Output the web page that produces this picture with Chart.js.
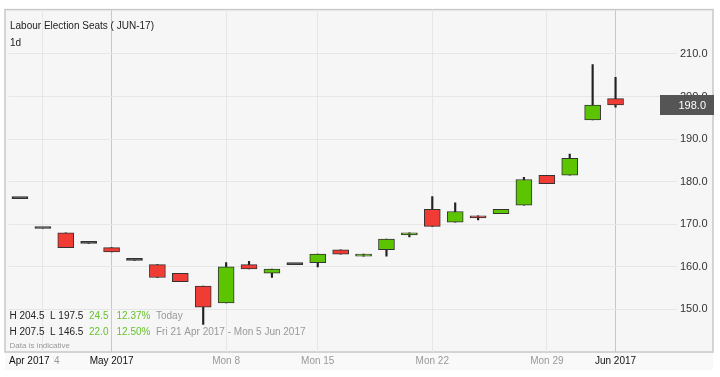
<!DOCTYPE html>
<html>
<head>
<meta charset="utf-8">
<script src="https://cdn.jsdelivr.net/npm/chart.js@4/dist/chart.umd.min.js"></script>
<style>
  html, body { margin: 0; padding: 0; background: #fff; }
  #wrap { width: 720px; height: 377px; position: relative; }
</style>
</head>
<body>
<div id="wrap"><canvas id="seats"></canvas></div>
<script>
// daily candles, Fri 21 Apr 2017 - Mon 5 Jun 2017
var days = ['21 Apr','24 Apr','26 Apr','28 Apr','1 May','2 May','3 May','4 May','5 May',
  '8 May','9 May','10 May','12 May','15 May','16 May','17 May','18 May','19 May',
  '22 May','23 May','24 May','25 May','26 May','29 May','30 May','31 May','5 Jun'];
var opens  = [176,169,168,165.5,164.5,161.5,160.5,158.5,155.5,151.5,160.5,158.5,160.5,161,164,162.5,164,167.5,173.5,170.5,172,172.5,174.5,181.5,181.5,194.5,199.5];
var highs  = [176,169,168,165.5,164.5,161.5,160.5,158.5,155.5,161,161.3,159.5,160.5,163,164,163,166.5,168,176.5,175,172,173.5,181,181.5,186.5,207.5,204.5];
var lows   = [176,169,164.5,165.5,163.5,161.5,157.5,156.5,146.5,151.5,159.5,157.5,160.5,160,163,162.5,162.5,167,169.5,170.5,171,172.5,174.5,179.5,181.5,194.5,197.5];
var closes = [176,169,164.5,165.5,163.5,161.5,157.5,156.5,150.5,160,159.5,159.5,160.5,163,163,163,166.5,168,169.5,173,171.5,173.5,180.5,179.5,185.5,198,198];

var yTicks = [150,160,170,180,190,200,210];
var xTickIndex = [1,0,4,9,13,18,23,26];
var xTickText  = ['Mon 24','Apr 2017','May 2017','Mon 8','Mon 15','Mon 22','Mon 29','Jun 2017'];
var monthLines = [4,26];
var weekLines  = [1,9,13,18,23];

var FONT = '"Liberation Sans", Arial, sans-serif';
var GREEN = '#5cc400', RED = '#f03c34';

var frame = {
  id:'frame',
  beforeDraw:function(chart){
    var c = chart.ctx, a = chart.chartArea, r = chart.scales.y.right - 1;
    c.save();
    c.fillStyle = '#fff';
    c.fillRect(0,0,chart.width,chart.height);
    c.fillStyle = '#f9f9f9';
    c.fillRect(5, a.bottom, r-5, 18);
    c.fillStyle = '#f6f6f6';
    c.fillRect(5, a.top, r-5, a.bottom-a.top);
    c.strokeStyle = '#c8c8c8';
    c.lineWidth = 1.5;
    c.strokeRect(5, a.top, r-5, a.bottom-a.top);
    c.restore();
  },
  afterDraw:function(chart){
    var c = chart.ctx, x = chart.scales.x, y = chart.scales.y;
    c.save();
    c.textBaseline = 'middle';
    c.font = '10px ' + FONT;
    c.fillStyle = '#222';
    c.fillText('Labour Election Seats ( JUN-17)', 10, 26.5);
    c.fillText('1d', 10, 43);

    // summary rows
    var n = closes.length;
    var chg = closes[n-1] - opens[0];
    var rows = [
      ['H 204.5','L 197.5','24.5','12.37%','Today'],
      ['H ' + Math.max.apply(null, highs).toFixed(1), 'L ' + Math.min.apply(null, lows).toFixed(1),
       chg.toFixed(1), (chg/opens[0]*100).toFixed(2) + '%', 'Fri 21 Apr 2017 - Mon 5 Jun 2017']
    ];
    var cols = [9.5,50,89,116.5,156];
    rows.forEach(function(row, k){
      var ty = 316.5 + k*16;
      row.forEach(function(t, j){
        c.fillStyle = j < 2 ? '#222' : (j < 4 ? '#66c22e' : '#999');
        c.fillText(t, cols[j], ty);
      });
    });
    c.font = '8px ' + FONT;
    c.fillStyle = '#999';
    c.fillText('Data is indicative', 9.5, 345.5);

    // x axis labels
    c.font = '10px ' + FONT;
    xTickIndex.forEach(function(i, k){
      var t = xTickText[k], month = t.indexOf('20') > 0;
      var px = x.getPixelForValue(i);
      c.fillStyle = month ? '#111' : '#999';
      if (i === 0) {
        c.fillStyle = '#f9f9f9';
        c.fillRect(6, chart.chartArea.bottom + 1, c.measureText(t).width + 7, 16);
        c.fillStyle = '#111';
        c.textAlign = 'left';
        c.fillText(t, 9, 361.5);
      } else {
        c.textAlign = 'center';
        c.fillText(t, px, 361.5);
      }
    });

    // last price box
    var last = closes[n-1];
    var py = y.getPixelForValue(last);
    c.fillStyle = '#555';
    c.fillRect(660, py - 10, 54, 20);
    c.fillStyle = '#fff';
    c.font = '11px ' + FONT;
    c.textAlign = 'right';
    c.fillText(last.toFixed(1), 706, py + 0.5);
    c.restore();
  }
};

new Chart(document.querySelector('#seats').getContext('2d'), {
  type:'bar',
  data:{
    labels:days,
    datasets:[{
      label:'body',
      data:opens.map(function(o,i){ return [o, closes[i]]; }),
      backgroundColor:function(ctx){
        var i = ctx.dataIndex;
        if (closes[i] === opens[i]) return '#333';
        return closes[i] > opens[i] ? GREEN : RED;
      },
      borderColor:'#333',
      borderWidth:1,
      borderSkipped:false,
      barThickness:16,
      minBarLength:2,
      grouped:false,
      order:1
    },{
      label:'wick',
      data:lows.map(function(l,i){ return [l, highs[i]]; }),
      backgroundColor:'#222',
      borderWidth:0,
      barThickness:1.5,
      grouped:false,
      order:2
    }]
  },
  options:{
    responsive:true,
    maintainAspectRatio:false,
    animation:false,
    events:[],
    layout:{ padding:{ left:8.5, right:6, top:8, bottom:0 } },
    plugins:{ legend:{ display:false }, tooltip:{ enabled:false } },
    scales:{
      x:{
        offset:true,
        grid:{
          offset:false,
          drawTicks:false,
          color:function(ctx){
            if (monthLines.indexOf(ctx.index) >= 0) return '#c8c8c8';
            if (weekLines.indexOf(ctx.index) >= 0) return '#e6e6e6';
            return 'rgba(0,0,0,0)';
          }
        },
        border:{ display:false },
        ticks:{ display:false },
        afterFit:function(scale){ scale.height = 25; }
      },
      y:{
        position:'right',
        min:140,
        max:220.4,
        grid:{
          tickLength:50,
          color:function(ctx){
            return yTicks.indexOf(ctx.tick.value) >= 0 ? '#e6e6e6' : 'rgba(0,0,0,0)';
          }
        },
        border:{ display:false },
        ticks:{
          stepSize:10,
          padding:3,
          color:'#333',
          font:{ family:FONT, size:11 },
          callback:function(v){ return yTicks.indexOf(v) >= 0 ? v.toFixed(1) : ''; }
        },
        afterFit:function(scale){ scale.width = 87; }
      }
    }
  },
  plugins:[frame]
});
</script>
</body>
</html>
